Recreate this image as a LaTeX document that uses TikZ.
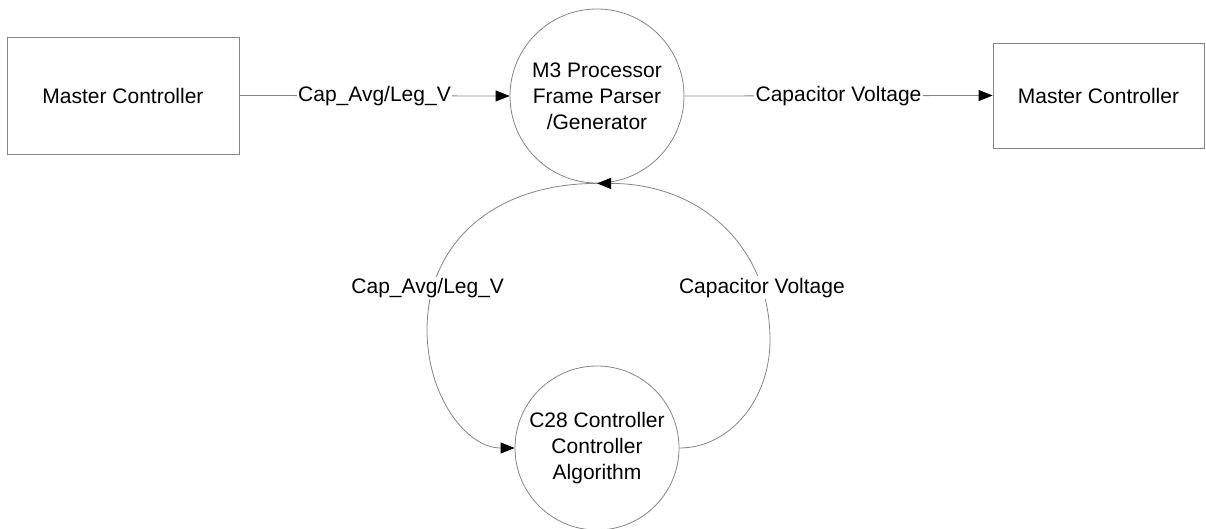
\documentclass[tikz,border=0pt]{standalone}
\usepackage{fontspec}
\setmainfont{Liberation Sans}
\usetikzlibrary{arrows.meta}
\definecolor{edge}{HTML}{858585}
\begin{document}
\begin{tikzpicture}[x=1pt,y=-1pt,
  every node/.style={font=\fontsize{21}{26}\selectfont, align=center},
  entity/.style={draw=edge, line width=0.8pt, rectangle, inner sep=0pt},
  process/.style={draw=edge, line width=0.8pt, circle, inner sep=0pt},
  flow/.style={draw=edge, line width=0.8pt,
    -{Triangle[length=14pt,width=11pt,black]}},
  lbl/.style={fill=white, inner sep=1.5pt}]
  \useasboundingbox (0,0) rectangle (1206,529);

  % external entities
  \node[entity, minimum width=232pt, minimum height=117pt] (src) at (123,95.5) {Master Controller};
  \node[entity, minimum width=211pt, minimum height=105pt] (dst) at (1098.5,95.5) {Master Controller};

  % processes
  \node[process, minimum size=174pt] (m3) at (597,96) {M3 Processor\\Frame Parser\\/Generator};
  \node[process, minimum size=164pt] (c28) at (597,448) {C28 Controller\\Controller\\Algorithm};

  % turning points of the loop between the two processes
  \coordinate (lbend) at (427,330);
  \coordinate (rbend) at (770,340);

  % data flows
  \draw[flow] (src.east) -- node[lbl] {Cap\_Avg/Leg\_V} (m3.west);
  \draw[flow] (m3.east) -- node[lbl] {Capacitor Voltage} (dst.west);
  \draw[flow] (m3.south) .. controls +(-102,0) and +(0,-88) .. (lbend)
      node[lbl, pos=0.83, xshift=-5pt] {Cap\_Avg/Leg\_V}
    .. controls +(0,65) and +(-49,0) .. (c28.west);
  \draw[flow] (c28.east) .. controls +(50,0) and +(0,60) .. (rbend)
    .. controls +(0,-94) and +(103,0) .. (m3.south)
      node[lbl, pos=0.2] {Capacitor Voltage};
\end{tikzpicture}
\end{document}
